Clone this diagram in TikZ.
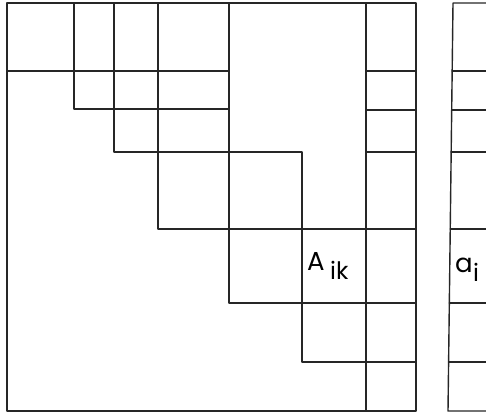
\documentclass[tikz,border=0pt]{standalone}
\usepackage{fontspec}
\setmainfont{Poppins}
\begin{document}
\begin{tikzpicture}[x=1pt,y=-1pt,
  rule/.style={line width=1.4pt, line cap=round, line join=round, draw=black!85},
  lbl/.style={inner sep=0pt, anchor=base west, font=\fontsize{26}{26}\selectfont},
  sub/.style={inner sep=0pt, anchor=base west, font=\fontsize{24}{24}\selectfont}]
\useasboundingbox (0,0) rectangle (486,414);
% big matrix
\draw[rule] (7,3) rectangle (416,411);
\draw[rule] (74,3) -- (74,109) -- (229,109);
\draw[rule] (114,3) -- (114,152) -- (302,152) -- (302,362) -- (416,362);
\draw[rule] (158,3) -- (158,229) -- (416,229);
\draw[rule] (229,3) -- (229,303) -- (416,303);
\draw[rule] (366,3) -- (366,411);
\draw[rule] (7,71) -- (229,71);
\draw[rule] (366,71) -- (416,71);
\draw[rule] (366,110) -- (416,110);
\draw[rule] (366,152) -- (416,152);
% vector
\coordinate (vt) at (453,3);
\coordinate (vb) at (448,411);
\draw[rule] (486,3) -- (vt) -- (vb) -- (486,411);
\foreach \y in {71,110,152,229,303,362}
  \draw[rule] ({453-5*(\y-3)/408},\y) -- (486,\y);
% labels
\node[lbl] (A) at (307,270) {A};
\node[sub] (ik) at (330,279) {ik};
\node[lbl] (a) at (455,272) {a};
\node[sub] (i) at (473,281) {i};
\end{tikzpicture}
\end{document}
